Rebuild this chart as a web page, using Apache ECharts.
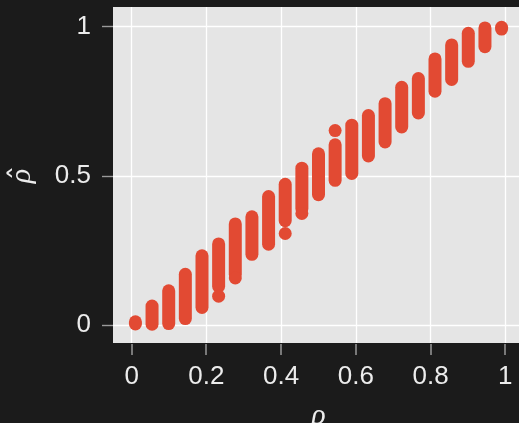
<!DOCTYPE html>
<html>
<head>
<meta charset="utf-8">
<script src="https://cdn.jsdelivr.net/npm/echarts@6/dist/echarts.min.js"></script>
<style>
html,body{margin:0;padding:0;background:#1b1b1b;}
#c{width:519px;height:423px;}
</style>
</head>
<body>
<div id="c"></div>
<script>
// true correlation values (one column per value)
var rho = [0.01, 0.0545, 0.0991, 0.1436, 0.1882, 0.2327, 0.2773, 0.3218, 0.3664, 0.4109, 0.4555, 0.5,
           0.5445, 0.5891, 0.6336, 0.6782, 0.7227, 0.7673, 0.8118, 0.8564, 0.9009, 0.9455, 0.99];
// lowest and highest estimate in each column's dense run of points
var rhoHatLow  = [0.004, 0.003, 0.005, 0.022, 0.059, 0.13, 0.17, 0.237, 0.271, 0.35, 0.39, 0.437,
                  0.485, 0.508, 0.567, 0.614, 0.664, 0.711, 0.784, 0.823, 0.884, 0.933, 0.992];
var rhoHatHigh = [0.011, 0.064, 0.115, 0.170, 0.232, 0.272, 0.339, 0.363, 0.431, 0.472, 0.526, 0.574,
                  0.604, 0.670, 0.702, 0.742, 0.797, 0.826, 0.892, 0.939, 0.978, 0.996, 0.998];
// isolated estimates outside the dense runs
var outlierRho    = [0.2327, 0.2773, 0.4109, 0.4555, 0.5445];
var outlierRhoHat = [0.097, 0.158, 0.307, 0.374, 0.652];
var xTicks = [0, 0.2, 0.4, 0.6, 0.8, 1];
var yTicks = [0, 0.5, 1];

var red = '#E24A33';
var labelColor = '#ececec';
var tickColor = '#9a9a9a';
var yMin = -0.06, yMax = 1.066;
var columns = rho.map(function (r, i) { return [r, rhoHatLow[i], rhoHatHigh[i]]; });
var outliers = outlierRho.map(function (r, i) { return [r, outlierRhoHat[i]]; });
var xTickData = xTicks.map(function (t) { return [t, yMin]; });

var yTitle = {
  type: 'group', id: 'ytitle', x: 22, y: 176, rotation: Math.PI / 2,
  children: [
    {type: 'text', x: 0, y: 0, style: {text: 'ρ', fill: labelColor, font: 'italic 30px "Liberation Serif"',
      align: 'center', verticalAlign: 'middle'}},
    {type: 'text', x: 3, y: -14, style: {text: 'ˆ', fill: labelColor, font: '30px "DejaVu Sans"',
      align: 'center', verticalAlign: 'top'}}
  ]
};

var chart = echarts.init(document.getElementById('c'), null, {renderer: 'canvas'});
chart.setOption({
  backgroundColor: '#1b1b1b',
  animation: false,
  grid: {left: 113, right: -5, top: 7, bottom: 80, show: true, backgroundColor: '#e5e5e5', borderWidth: 0,
         containLabel: false, outerBoundsMode: 'none'},
  xAxis: {
    type: 'value', min: -0.05, max: 1.05, position: 'bottom',
    axisLine: {show: false, onZero: false},
    axisTick: {show: false, customValues: xTicks},
    axisLabel: {customValues: xTicks, color: labelColor, fontSize: 26, fontFamily: 'Liberation Sans', margin: 21,
      formatter: function (v) { return String(Math.round(v * 10) / 10); }},
    splitLine: {show: true, lineStyle: {color: '#ffffff', width: 1.3}},
    name: 'ρ', nameLocation: 'middle', nameGap: 58,
    nameTextStyle: {color: labelColor, fontSize: 30, fontStyle: 'italic', fontFamily: 'Liberation Serif'}
  },
  yAxis: {
    type: 'value', min: yMin, max: yMax,
    axisLine: {show: false, onZero: false},
    axisTick: {show: true, customValues: yTicks, length: 11, lineStyle: {color: tickColor, width: 1.4}},
    axisLabel: {customValues: yTicks, color: labelColor, fontSize: 26, fontFamily: 'Liberation Sans', margin: 22,
      formatter: function (v) { return String(v); }},
    splitLine: {show: true, lineStyle: {color: '#ffffff', width: 1.3}}
  },
  graphic: [yTitle],
  series: [
    {
      // x-axis tick marks, drawn through the axis scale just below the plot
      type: 'custom',
      data: xTickData,
      clip: false,
      silent: true,
      z: 10,
      renderItem: function (params, api) {
        var p = api.coord([api.value(0), api.value(1)]);
        return {
          type: 'rect',
          shape: {x: Math.round(p[0]) - 0.75, y: p[1] + 1, width: 1.5, height: 11},
          style: {fill: tickColor}
        };
      },
      encode: {x: 0, y: 1}
    },
    {
      type: 'custom',
      data: columns,
      clip: false,
      renderItem: function (params, api) {
        var p1 = api.coord([api.value(0), api.value(1)]);
        var p2 = api.coord([api.value(0), api.value(2)]);
        return {
          type: 'line',
          shape: {x1: p1[0], y1: p1[1], x2: p2[0], y2: p2[1]},
          style: {stroke: red, lineWidth: 13, lineCap: 'round'}
        };
      },
      encode: {x: 0, y: [1, 2]}
    },
    {
      type: 'scatter',
      data: outliers,
      symbol: 'circle',
      symbolSize: 13,
      itemStyle: {color: red, opacity: 1}
    }
  ]
});
</script>
</body>
</html>
